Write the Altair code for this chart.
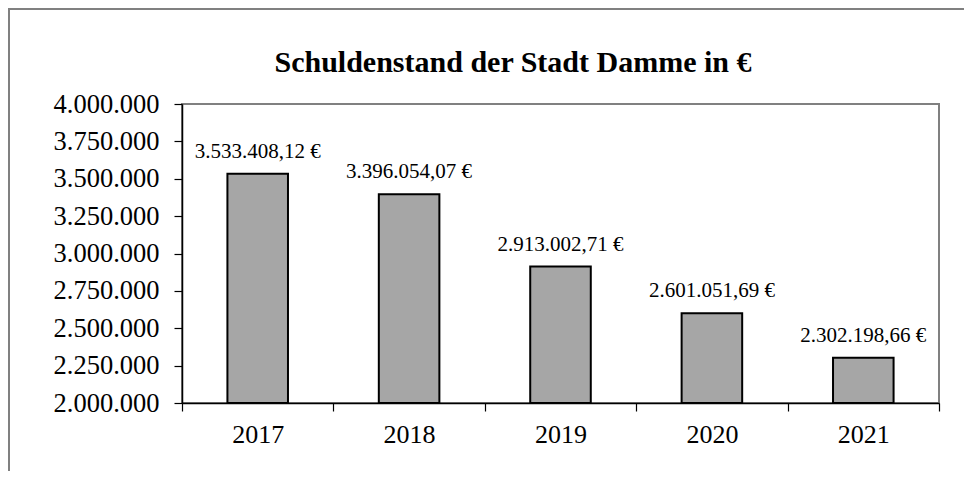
import altair as alt
import pandas as pd

years = ["2017", "2018", "2019", "2020", "2021"]
debt = [3533408.12, 3396054.07, 2913002.71, 2601051.69, 2302198.66]
y_ticks = [2000000, 2250000, 2500000, 2750000, 3000000, 3250000, 3500000, 3750000, 4000000]
title_text = "Schuldenstand der Stadt Damme in €"

df = pd.DataFrame({"year": years, "debt": debt})

FONT = "Liberation Serif"
W, H = 757, 299
PAD = {"left": 174, "top": 96, "right": 25, "bottom": 68}

x_enc = alt.X(
    "year:N",
    sort=years,
    scale=alt.Scale(paddingInner=0, paddingOuter=0),
    axis=alt.Axis(
        title=None, labelAngle=0, tickBand="extent", tickSize=8,
        labelFont=FONT, labelFontSize=26, labelColor="black", labelPadding=10,
        domainColor="black", domainWidth=1.5, tickColor="black", tickWidth=1.2,
    ),
)
y_scale = alt.Scale(domain=[2000000, 4000000], zero=False, nice=False)
y_enc = alt.Y(
    "debt:Q",
    scale=y_scale,
    axis=alt.Axis(
        title=None, values=y_ticks, format=",d", grid=False, tickSize=8,
        labelOverlap=False, labelBound=False, labelFlush=False,
        labelFont=FONT, labelFontSize=26.5, labelColor="black",
        labelPadding=15, domainColor="black", domainWidth=1.5,
        tickColor="black", tickWidth=1.2,
    ),
)

bars = alt.Chart(df).mark_bar(
    color="#a6a6a6", stroke="black", strokeWidth=2, width={"band": 0.4}
).encode(x=x_enc, y=y_enc, y2=alt.datum(2000000))

labels = alt.Chart(df).mark_text(
    font=FONT, fontSize=21, color="black", baseline="alphabetic", dy=-16
).encode(
    x=x_enc,
    y=y_enc,
    text=alt.Text("debt:Q", format="$,.2f"),
)

one_row = pd.DataFrame({"title": [title_text]})
title = alt.Chart(one_row).mark_text(
    font=FONT, fontSize=30, fontWeight="bold", color="black",
    align="center", baseline="alphabetic",
).encode(x=alt.value(331), y=alt.value(-32), text="title:N")

left_border = alt.Chart(one_row).mark_rule(color="#808080", strokeWidth=2).encode(
    x=alt.value(-173), y=alt.value(-95), y2=alt.value(H + PAD["bottom"])
)
top_border = alt.Chart(one_row).mark_rule(color="#808080", strokeWidth=2).encode(
    x=alt.value(-174), x2=alt.value(W + PAD["right"]), y=alt.value(-95)
)

chart = alt.layer(left_border, top_border, bars, labels, title).properties(
    width=W,
    height=H,
    padding=PAD,
    autosize=alt.AutoSizeParams(type="none"),
    background="white",
).configure(
    locale={"number": {"decimal": ",", "thousands": ".", "grouping": [3], "currency": ["", " €"]}}
).configure_view(
    stroke="#808080", strokeWidth=2
)

chart.save("out.html", embed_options={"renderer": "svg", "actions": False})
